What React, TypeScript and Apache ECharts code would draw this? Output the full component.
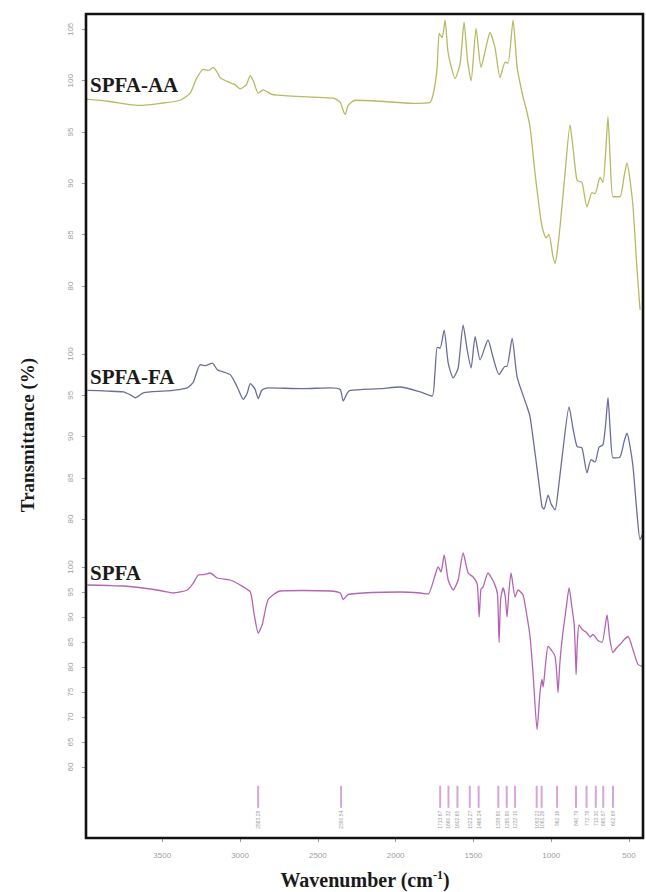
import React, { useEffect, useRef } from "react";
import * as echarts from "echarts";

const X_MIN = 410;
const X_MAX = 3990;
const xTickValues = [500, 1000, 1500, 2000, 2500, 3000, 3500];

const spfaAATicks = [80, 85, 90, 95, 100, 105];
const spfaFATicks = [80, 85, 90, 95, 100];
const spfaTicks = [60, 65, 70, 75, 80, 85, 90, 95, 100];

const spfaAA: [number, number][] = [
  [3988, 98.2], [3850, 98.0], [3720, 97.7], [3641, 97.6], [3512, 97.8], [3384, 98.1],
  [3320, 98.8], [3280, 100.2], [3236, 101.1], [3200, 101.0], [3172, 101.3], [3150, 100.9],
  [3127, 100.3], [3063, 99.8], [3030, 99.6], [2999, 99.2], [2960, 99.6], [2934, 100.5],
  [2915, 100.0], [2883, 98.8], [2851, 99.1], [2800, 98.7], [2761, 98.6], [2530, 98.4],
  [2401, 98.3], [2356, 97.9], [2335, 97.0], [2324, 96.7], [2305, 97.6], [2260, 98.1],
  [2099, 98.0], [1887, 97.8], [1778, 97.9], [1760, 98.6], [1746, 99.7], [1733, 101.3],
  [1720, 104.6], [1701, 104.2], [1682, 105.9], [1665, 103.0], [1650, 101.8], [1618, 100.2],
  [1585, 101.7], [1560, 105.7], [1538, 102.0], [1515, 100.0], [1483, 105.1], [1451, 101.3],
  [1420, 103.2], [1393, 104.7], [1361, 103.2], [1329, 100.3], [1296, 101.8], [1277, 101.7],
  [1245, 105.9], [1219, 101.3], [1181, 98.4], [1160, 97.2], [1136, 95.5], [1104, 91.0],
  [1080, 88.0], [1059, 85.8], [1033, 84.7], [1014, 85.0], [990, 83.0], [975, 82.2],
  [960, 83.5], [943, 85.8], [911, 91.0], [879, 95.7], [860, 93.5], [834, 90.3],
  [802, 90.1], [770, 87.7], [738, 89.1], [718, 89.0], [686, 90.6], [667, 90.1],
  [650, 93.0], [635, 96.5], [620, 92.0], [603, 88.7], [558, 88.7], [530, 90.8],
  [513, 92.0], [495, 90.5], [474, 87.7], [450, 82.0], [429, 77.7],
];

const spfaFA: [number, number][] = [
  [3981, 95.6], [3850, 95.5], [3750, 95.4], [3700, 95.0], [3673, 94.7], [3622, 95.3],
  [3500, 95.5], [3429, 95.6], [3339, 95.9], [3300, 96.6], [3256, 98.7], [3220, 98.6],
  [3178, 98.9], [3146, 98.1], [3063, 97.5], [3018, 96.0], [2979, 94.5], [2955, 95.2],
  [2934, 96.4], [2905, 95.8], [2883, 94.6], [2860, 95.6], [2820, 95.9], [2600, 95.8],
  [2420, 95.9], [2356, 95.7], [2337, 94.3], [2310, 95.3], [2292, 95.6], [2100, 95.8],
  [1971, 96.0], [1842, 95.4], [1765, 94.9], [1748, 97.5], [1733, 100.8], [1714, 100.7],
  [1688, 102.9], [1662, 98.9], [1630, 97.1], [1598, 98.3], [1566, 103.5], [1540, 100.5],
  [1515, 98.3], [1489, 102.1], [1457, 99.3], [1406, 101.7], [1374, 99.6], [1335, 97.5],
  [1296, 98.5], [1284, 98.5], [1251, 101.9], [1219, 97.2], [1155, 93.6], [1136, 92.4],
  [1104, 88.0], [1080, 84.5], [1059, 81.5], [1046, 81.2], [1020, 82.9], [1000, 81.8],
  [975, 81.1], [955, 83.5], [930, 87.5], [885, 93.6], [860, 91.0], [834, 88.8],
  [802, 88.6], [770, 85.6], [744, 87.2], [718, 86.9], [693, 88.7], [667, 89.0],
  [650, 91.5], [635, 94.7], [620, 90.5], [603, 87.4], [558, 87.5], [530, 89.5],
  [513, 90.4], [495, 89.0], [474, 86.3], [450, 81.0], [429, 77.5], [410, 78.3],
];

const spfa: [number, number][] = [
  [3981, 96.4], [3850, 96.3], [3750, 96.2], [3650, 95.9], [3577, 95.6], [3500, 95.2],
  [3429, 94.8], [3339, 95.4], [3300, 96.8], [3268, 98.4], [3230, 98.5], [3191, 98.8],
  [3146, 97.8], [3063, 97.4], [2999, 96.4], [2934, 95.0], [2909, 90.5], [2883, 86.8],
  [2857, 88.5], [2819, 93.5], [2742, 95.2], [2600, 95.3], [2420, 95.2], [2356, 94.8],
  [2337, 93.5], [2305, 94.5], [2150, 94.9], [1971, 95.0], [1842, 94.8], [1791, 94.6],
  [1746, 98.4], [1727, 100.0], [1708, 99.0], [1688, 102.4], [1662, 97.4], [1630, 95.4],
  [1598, 97.4], [1566, 102.8], [1534, 98.8], [1502, 98.0], [1475, 96.5], [1463, 90.0],
  [1452, 95.5], [1438, 96.0], [1406, 98.8], [1367, 96.8], [1345, 94.5], [1335, 84.9],
  [1325, 93.5], [1309, 95.8], [1295, 94.0], [1284, 90.0], [1272, 95.0], [1258, 98.8],
  [1232, 94.0], [1213, 95.4], [1181, 94.4], [1160, 91.0], [1136, 86.1], [1117, 78.9],
  [1091, 67.5], [1072, 74.9], [1059, 77.5], [1052, 76.0], [1035, 81.0], [1020, 84.1],
  [990, 83.0], [975, 82.1], [965, 79.0], [956, 74.9], [945, 80.5], [930, 85.5],
  [905, 91.5], [885, 95.8], [865, 91.5], [853, 88.8], [846, 84.0], [840, 78.5],
  [832, 85.0], [821, 88.4], [800, 87.5], [770, 86.8], [750, 86.0], [731, 86.5],
  [700, 85.3], [673, 84.9], [641, 90.4], [625, 86.0], [603, 82.9], [580, 83.8],
  [558, 84.5], [530, 85.5], [506, 86.1], [470, 83.0], [442, 80.5], [410, 80.1],
];

const peakWavenumbers = [
  2883.28, 2350.54, 1713.67, 1660.32, 1602.65, 1523.27, 1466.24, 1339.8, 1285.8,
  1232.15, 1093.23, 1061.26, 962.16, 840.79, 772.78, 713.3, 665.57, 602.69,
];

const SERIF = "'Liberation Serif', 'DejaVu Serif', serif";
const SANS = "'Liberation Sans', Arial, sans-serif";

function yAxisFor(gridIndex: number, min: number, max: number, ticks: number[]) {
  return {
    type: "value",
    gridIndex,
    min,
    max,
    axisLine: { show: false },
    splitLine: { show: false },
    axisTick: {
      show: true,
      customValues: ticks,
      length: 4,
      lineStyle: { color: "#9a9a9a", width: 1 },
    },
    axisLabel: {
      show: true,
      customValues: ticks,
      rotate: 90,
      fontSize: 8,
      color: "#a0a0a0",
      fontFamily: SANS,
      margin: 12,
      formatter: (v: number) => String(v),
    },
  };
}

function hiddenX(gridIndex: number) {
  return {
    type: "value",
    gridIndex,
    min: X_MIN,
    max: X_MAX,
    inverse: true,
    show: false,
    splitLine: { show: false },
  };
}

export default function App() {
  const ref = useRef<HTMLDivElement | null>(null);

  useEffect(() => {
    if (!ref.current) return;
    const chart = echarts.init(ref.current, undefined, { renderer: "svg" });
    const lineSeries = (name: string, idx: number, data: [number, number][], color: string) => ({
      name,
      type: "line",
      xAxisIndex: idx,
      yAxisIndex: idx,
      data,
      showSymbol: false,
      symbol: "none",
      smooth: 0.2,
      lineStyle: { color, width: 1.3 },
    });
    chart.setOption({
      animation: false,
      backgroundColor: "#ffffff",
      grid: [
        { left: 86, width: 557, top: 14, height: 308, outerBoundsMode: "none" },
        { left: 86, width: 557, top: 321, height: 231, outerBoundsMode: "none" },
        { left: 86, width: 557, top: 547, height: 240, outerBoundsMode: "none" },
        { left: 86, width: 557, top: 780, height: 58, outerBoundsMode: "none" },
      ],
      xAxis: [
        hiddenX(0),
        hiddenX(1),
        hiddenX(2),
        {
          type: "value",
          gridIndex: 3,
          min: X_MIN,
          max: X_MAX,
          inverse: true,
          axisLine: { show: false },
          splitLine: { show: false },
          axisTick: {
            show: true,
            customValues: xTickValues,
            length: 4,
            lineStyle: { color: "#9a9a9a" },
          },
          axisLabel: {
            show: true,
            customValues: xTickValues,
            fontSize: 8,
            color: "#a0a0a0",
            fontFamily: SANS,
            margin: 13,
            formatter: (v: number) => String(v),
          },
        },
      ],
      yAxis: [
        yAxisFor(0, 76.5, 106.5, spfaAATicks),
        yAxisFor(1, 76, 104, spfaFATicks),
        yAxisFor(2, 56, 104, spfaTicks),
        { type: "value", gridIndex: 3, min: 0, max: 1, show: false, splitLine: { show: false } },
      ],
      series: [
        lineSeries("SPFA-AA", 0, spfaAA, "#b7ba62"),
        lineSeries("SPFA-FA", 1, spfaFA, "#6a6d9c"),
        lineSeries("SPFA", 2, spfa, "#b465b2"),
        {
          type: "custom",
          xAxisIndex: 3,
          yAxisIndex: 3,
          data: peakWavenumbers.map((v) => [v]),
          renderItem: (params: any, api: any) => {
            const v = api.value(0);
            const top = api.coord([v, 0.9]);
            const bot = api.coord([v, 0.52]);
            const lab = api.coord([v, 0.47]);
            return {
              type: "group",
              children: [
                {
                  type: "line",
                  shape: { x1: top[0], y1: top[1], x2: bot[0], y2: bot[1] },
                  style: { stroke: "#d6a6da", lineWidth: 2 },
                },
                {
                  type: "text",
                  x: lab[0],
                  y: lab[1],
                  rotation: Math.PI / 2,
                  style: {
                    text: v.toFixed(2),
                    align: "right",
                    verticalAlign: "middle",
                    fontSize: 5,
                    fill: "#a0a0a0",
                    fontFamily: SANS,
                  },
                },
              ],
            };
          },
        },
      ],
      graphic: [
        {
          type: "rect",
          shape: { x: 86, y: 14, width: 557, height: 824 },
          style: { fill: "none", stroke: "#111111", lineWidth: 2.6 },
          z: 100,
        },
        {
          type: "text",
          x: 90,
          y: 85,
          style: { text: "SPFA-AA", fontSize: 21, fontWeight: "bold", fontFamily: SERIF, fill: "#1a1a1a", verticalAlign: "middle" },
          z: 100,
        },
        {
          type: "text",
          x: 90,
          y: 377,
          style: { text: "SPFA-FA", fontSize: 21, fontWeight: "bold", fontFamily: SERIF, fill: "#1a1a1a", verticalAlign: "middle" },
          z: 100,
        },
        {
          type: "text",
          x: 90,
          y: 573,
          style: { text: "SPFA", fontSize: 21, fontWeight: "bold", fontFamily: SERIF, fill: "#1a1a1a", verticalAlign: "middle" },
          z: 100,
        },
        {
          type: "text",
          x: 27,
          y: 435,
          rotation: Math.PI / 2,
          style: {
            text: "Transmittance (%)",
            fontSize: 19,
            fontWeight: "bold",
            fontFamily: SERIF,
            fill: "#1a1a1a",
            align: "center",
            verticalAlign: "middle",
          },
          z: 100,
        },
        {
          type: "text",
          x: 365,
          y: 880,
          style: {
            text: "{a|Wavenumber (cm}{s|-1}{a|)}",
            align: "center",
            verticalAlign: "middle",
            rich: {
              a: { fontSize: 20, fontWeight: "bold", fontFamily: SERIF, fill: "#1a1a1a", lineHeight: 22 },
              s: { fontSize: 12, fontWeight: "bold", fontFamily: SERIF, fill: "#1a1a1a", verticalAlign: "top", lineHeight: 22 },
            },
          },
          z: 100,
        },
      ],
    });
    return () => chart.dispose();
  }, []);

  return (
    <div
      ref={ref}
      style={{ position: "fixed", left: 0, top: 0, width: 646, height: 892, background: "#fff" }}
    />
  );
}
